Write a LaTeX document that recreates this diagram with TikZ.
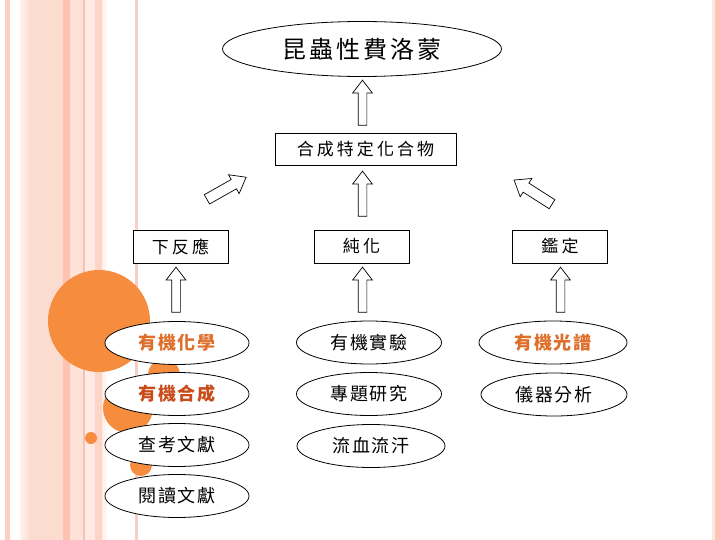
\documentclass[tikz,border=0pt]{standalone}
\usepackage{fontspec}
\newfontfamily\cjk{Noto Sans CJK TC}
\usetikzlibrary{shapes.geometric,shapes.arrows}
\definecolor{stripeA}{HTML}{FBD0C2}
\definecolor{stripeB}{HTML}{FDDCD0}
\definecolor{stripeC}{HTML}{FCC3B0}
\definecolor{stripeD}{HTML}{FEE2D7}
\definecolor{stripeE}{HTML}{EFC3B5}
\definecolor{stripeF}{HTML}{FEEAE2}
\definecolor{stripeG}{HTML}{FDD5C7}
\definecolor{stripeH}{HTML}{FEEDE6}
\definecolor{stripeI}{HTML}{F8CFC4}
\definecolor{stripeJ}{HTML}{FDE8DF}
\definecolor{stripeK}{HTML}{FCC4B5}
\definecolor{stripeL}{HTML}{FFF3EE}
\definecolor{blob}{HTML}{F68C3E}
\definecolor{txtorange}{HTML}{DE6E28}
\definecolor{txtred}{HTML}{C84B19}
\tikzset{
  ellnode/.style={ellipse, draw, fill=white, line width=0.8pt, minimum width=145pt,
    minimum height=43pt, inner sep=0pt,
    font=\cjk\fontsize{18}{20}\selectfont\addfontfeature{LetterSpace=10}},
  boxnode/.style={rectangle, draw, fill=white, line width=0.8pt, minimum width=95pt,
    minimum height=33pt, inner sep=0pt,
    font=\cjk\fontsize{17}{19}\selectfont\addfontfeature{LetterSpace=18}},
  blockarrow/.style={single arrow, draw, fill=white, line width=0.7pt,
    minimum height=45pt, single arrow head extend=5.5pt,
    single arrow tip angle=75, inner sep=0pt, anchor=center},
  hot/.style={font=\cjk\bfseries\fontsize{18}{20}\selectfont\addfontfeature{LetterSpace=10}}
}
\begin{document}
\begin{tikzpicture}[x=1pt,y=-1pt]
\useasboundingbox (0,0) rectangle (720,540);
\fill[white] (0,0) rectangle (720,540);
% background stripes
\fill[stripeA] (5,0) rectangle (10,540);
\shade[left color=stripeL, right color=stripeB] (20,0) rectangle (30,540);
\fill[stripeB] (30,0) rectangle (63,540);
\fill[stripeC] (63,0) rectangle (70,540);
\fill[stripeD] (70,0) rectangle (83,540);
\fill[stripeE] (83,0) rectangle (84.5,540);
\fill[stripeF] (84.5,0) rectangle (95,540);
\fill[stripeG] (95,0) rectangle (102,540);
\shade[left color=stripeH, right color=white] (102,0) rectangle (108,540);
\fill[stripeI] (135,0) rectangle (138,540);
\fill[stripeJ] (712,0) rectangle (715,540);
\fill[stripeK] (715,0) rectangle (720,540);
% decorative circles
\fill[blob] (99,321) circle[radius=51pt];
\fill[blob] (164,375) circle[radius=16pt];
\fill[blob] (128,408) circle[radius=25pt];
\fill[blob] (91,438) circle[radius=6pt];
\fill[blob] (141,465) circle[radius=11pt];
% top
\node[ellipse, draw, fill=white, line width=0.8pt, minimum width=279pt, minimum height=55pt,
  inner sep=0pt, font=\cjk\fontsize{24}{26}\selectfont\addfontfeature{LetterSpace=12}]
  (goal) at (362,49) {昆蟲性費洛蒙};
\node[boxnode, minimum width=181pt, minimum height=32pt] (synth) at (365.5,149) {合成特定化合物};
% second row boxes
\node[boxnode] (react) at (180.5,246.5) {下反應};
\node[boxnode] (purify) at (361.5,246.5) {純化};
\node[boxnode] (ident) at (560,246.5) {鑑定};
% block arrows
\node[blockarrow, rotate=90] (arTop) at (362.5,105.5) {\rule{0pt}{8pt}};
\node[blockarrow, rotate=90] (arMid) at (362.5,196.5) {\rule{0pt}{8pt}};
\node[blockarrow, rotate=29.4] (arLeft) at (223.5,190) {\rule{0pt}{10pt}};
\node[blockarrow, rotate=147.5] (arRight) at (536,194) {\rule{0pt}{10pt}};
\node[blockarrow, rotate=90] (arL3) at (176,292.5) {\rule{0pt}{8pt}};
\node[blockarrow, rotate=90] (arM3) at (362.5,292.5) {\rule{0pt}{8pt}};
\node[blockarrow, rotate=90] (arR3) at (560.5,292.5) {\rule{0pt}{8pt}};
% left column
\node[ellnode, minimum width=144pt, text=txtorange, hot] (e11) at (177,343) {有機化學};
\node[ellnode, minimum width=144pt, text=txtred, hot] (e12) at (177,394) {有機合成};
\node[ellnode, minimum width=144pt] (e13) at (177,445) {查考文獻};
\node[ellnode, minimum width=144pt] (e14) at (177,496) {閱讀文獻};
% middle column
\node[ellnode, minimum width=145pt] (e21) at (369,342.5) {有機實驗};
\node[ellnode, minimum width=145pt] (e22) at (369,394) {專題研究};
\node[ellnode, minimum width=148pt] (e23) at (371,446) {流血流汗};
% right column
\node[ellnode, minimum width=148pt, text=txtorange, hot] (e31) at (553,342.5) {有機光譜};
\node[ellnode, minimum width=146pt] (e32) at (554,394.5) {儀器分析};
\end{tikzpicture}
\end{document}
